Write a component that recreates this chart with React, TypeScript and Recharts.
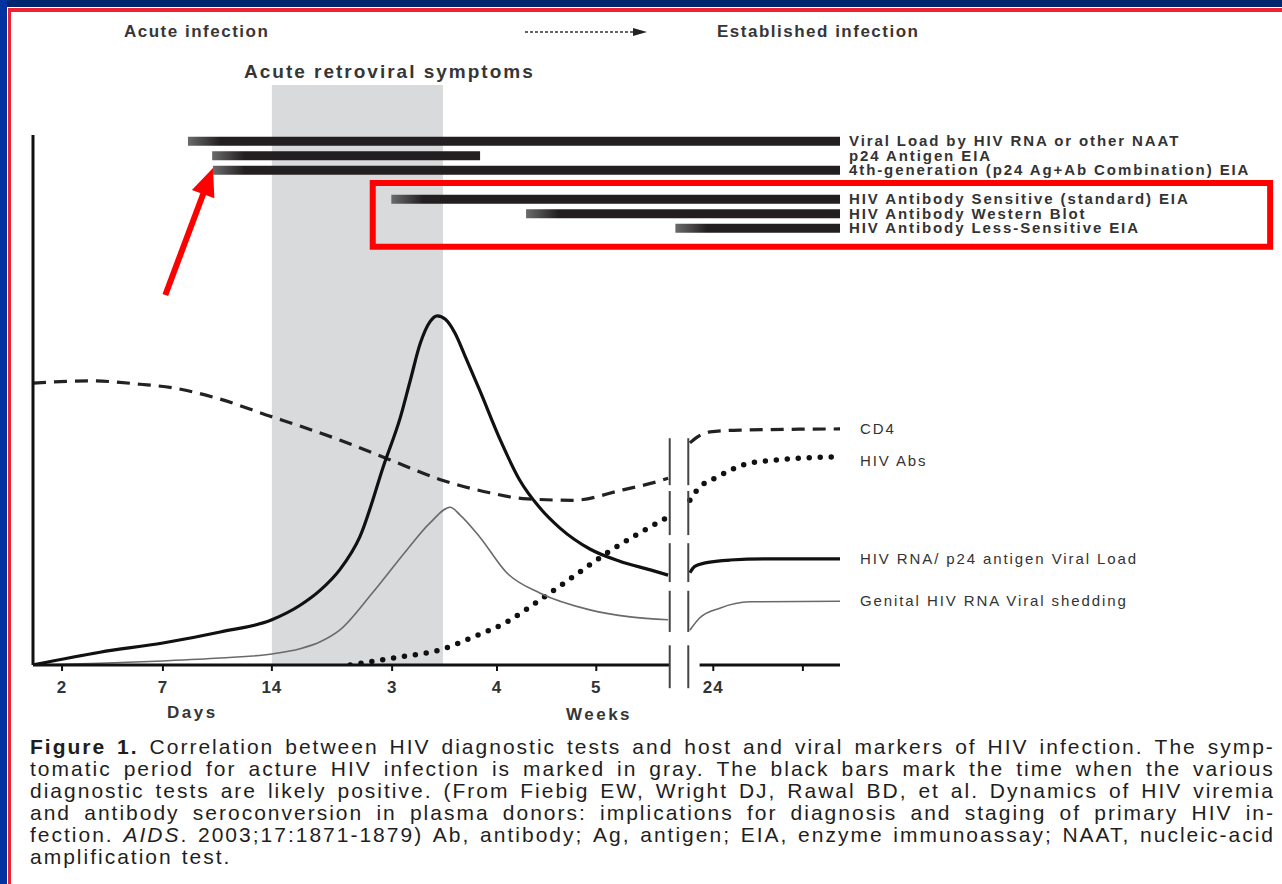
import React from 'react';
import {
  ComposedChart,
  BarChart,
  Bar,
  Line,
  XAxis,
  YAxis,
  ReferenceArea,
  ReferenceLine,
} from 'recharts';

const FONT = '"Liberation Sans", Arial, Helvetica, sans-serif';

// x: position along the schematic timeline (0–100), y: relative level (0–100)
const tickPos = [3.6, 16.1, 29.6, 44.5, 57.5, 69.8, 84.3, 95.4];
const tickLabels = ['2', '7', '14', '3', '4', '5', '24', ''];

const symptomsStart = 29.6;
const symptomsEnd = 50.8;

// diagnostic tests (bars)
const testNames = [
  'Viral Load by HIV RNA or other NAAT',
  'p24 Antigen EIA',
  '4th-generation (p24 Ag+Ab Combination) EIA',
  'HIV Antibody Sensitive (standard) EIA',
  'HIV Antibody Western Blot',
  'HIV Antibody Less-Sensitive EIA',
];
const testStart = [19.2, 22.2, 22.3, 44.4, 61.1, 79.6];
const testEnd = [100, 55.4, 100, 100, 100, 100];

// curves (null = axis break)
const cd4X = [0, 7.1, 13.3, 17.3, 22.8, 29.4, 33.1, 38.0, 44.2, 50.4, 56.6, 60.7, 66.9, 73.1, 77.3, 78.7, 80.0, 81.4, 82.3, 83.9, 87.6, 100];
const cd4Y = [48.6, 49.0, 48.4, 47.8, 46.0, 42.9, 41.2, 38.8, 35.4, 32.0, 29.7, 28.7, 28.4, 30.2, 31.6, 32.2, null, 38.3, 39.3, 40.2, 40.5, 40.7];

const absX = [39.3, 45.5, 50.4, 54.5, 58.7, 62.8, 66.9, 71.1, 75.2, 78.7, 80.0, 81.4, 82.3, 84.8, 88.0, 91.7, 100];
const absY = [0, 1.4, 2.6, 4.8, 7.4, 11.2, 15.2, 19.3, 22.8, 25.5, null, 28.4, 30.2, 32.4, 34.5, 35.3, 35.9];

const rnaX = [0, 8.3, 16.1, 23.2, 29.6, 33.1, 35.6, 38.0, 40.5, 43.6, 45.5, 46.7, 48.0, 49.2, 50.1, 51.1, 52.3, 53.5, 55.4, 57.9, 60.3, 62.8, 65.3, 69.0, 72.7, 76.5, 78.7, 80.0, 81.4, 82.0, 83.3, 86.4, 91.3, 100];
const rnaY = [0, 2.2, 3.8, 5.7, 7.8, 10.3, 12.9, 16.4, 22.1, 35.0, 42.6, 48.8, 55.5, 59.2, 60.2, 59.6, 57.2, 53.4, 47.2, 38.8, 31.9, 27.1, 23.6, 20.0, 17.9, 16.4, 15.5, null, 15.9, 17.0, 17.6, 18.1, 18.3, 18.3];

const genX = [0, 8.3, 16.1, 23.2, 29.6, 33.1, 35.6, 38.0, 42.1, 46.3, 49.2, 51.7, 52.9, 55.4, 58.7, 62.8, 69.0, 74.0, 78.7, 80.0, 81.4, 82.6, 85.1, 88.8, 100];
const genY = [0, 0.3, 0.7, 1.2, 1.9, 2.8, 4.0, 6.0, 12.5, 19.8, 24.5, 27.2, 25.9, 22.0, 15.9, 12.4, 9.5, 8.3, 7.8, null, 6.0, 8.1, 9.8, 10.9, 11.0];

const curveNames = ['CD4', 'HIV Abs', 'HIV RNA/ p24 antigen Viral Load', 'Genital HIV RNA Viral shedding'];

const captionLines = [
  'Figure 1. Correlation between HIV diagnostic tests and host and viral markers of HIV infection. The symp-',
  'tomatic period for acture HIV infection is marked in gray. The black bars mark the time when the various',
  'diagnostic tests are likely positive. (From Fiebig EW, Wright DJ, Rawal BD, et al. Dynamics of HIV viremia',
  'and antibody seroconversion in plasma donors: implications for diagnosis and staging of primary HIV in-',
  'fection. AIDS. 2003;17:1871-1879) Ab, antibody; Ag, antigen; EIA, enzyme immunoassay; NAAT, nucleic-acid',
  'amplification test.',
];

// ---------- derived ----------
const toPts = (xs: number[], ys: (number | null)[]) => xs.map((x, i) => ({ x, y: ys[i] }));
const cd4Data = toPts(cd4X, cd4Y);
const absData = toPts(absX, absY);
const rnaData = toPts(rnaX, rnaY);
const genData = toPts(genX, genY);

const endVals = [cd4Y, absY, rnaY, genY].map((a) => a[a.length - 1] as number);

const testRows: any[] = [];
testNames.forEach((name, i) => {
  if (i === 3) testRows.push({ name: ' ', offset: 0, span: 0 });
  testRows.push({ name, offset: testStart[i], span: testEnd[i] - testStart[i] });
});

// layout constants (annotation geometry in chart units)
const yAxisTop = 91.4;
const breakLeft = 78.9;
const breakRight = 81.2;
const axisResume = 82.6;
const breakSegs = [
  [39.1, 31.0],
  [30.0, 22.4],
  [21.0, 14.3],
  [12.8, 5.7],
  [3.4, -4.0],
];

const XTick = (p: any) => {
  const i = tickPos.indexOf(p.payload.value);
  return (
    <text x={p.x} y={p.y} dy="0.71em" textAnchor="middle" fill="#333" fontFamily={FONT} fontSize={17} fontWeight={700} letterSpacing={1}>
      {i >= 0 ? tickLabels[i] : ''}
    </text>
  );
};

const CurveTick = (p: any) => {
  const i = endVals.indexOf(p.payload.value);
  return (
    <text x={p.x} y={p.y} dy={i === 1 ? '0.6em' : '0.35em'} textAnchor="start" fill="#333" fontFamily={FONT} fontSize={15} letterSpacing={1.9}>
      {i >= 0 ? curveNames[i] : ''}
    </text>
  );
};

const BarTick = (p: any) => (
  <text x={p.x} y={p.y} dy="0.35em" textAnchor="start" fill="#333" fontFamily={FONT} fontSize={15} fontWeight={700} letterSpacing={1.9}>
    {p.payload.value}
  </text>
);

const FadedBar = (p: any) => {
  const { x, y, width, height, index } = p;
  if (!width || width <= 0) return null;
  const id = `fade-${index}`;
  const off = Math.min(0.9, 32 / width);
  return (
    <g>
      <defs>
        <linearGradient id={id} x1="0" y1="0" x2="1" y2="0">
          <stop offset="0" stopColor="#6b6b6b" />
          <stop offset={off} stopColor="#231f20" />
          <stop offset="1" stopColor="#231f20" />
        </linearGradient>
      </defs>
      <rect x={x} y={y} width={width} height={height} fill={`url(#${id})`} />
    </g>
  );
};

const RedArrow = (p: any) => {
  const { x1, y1, x2, y2 } = p;
  const dx = x2 - x1;
  const dy = y2 - y1;
  const len = Math.hypot(dx, dy) || 1;
  const ux = dx / len;
  const uy = dy / len;
  const hl = 28;
  const hw = 12;
  const bx = x2 - ux * hl;
  const by = y2 - uy * hl;
  const px = -uy;
  const py = ux;
  return (
    <g>
      <line x1={x1} y1={y1} x2={bx + ux * 2} y2={by + uy * 2} stroke="#ff0000" strokeWidth={6} />
      <polygon points={`${x2},${y2} ${bx + px * hw},${by + py * hw} ${bx - px * hw},${by - py * hw}`} fill="#ff0000" />
    </g>
  );
};

const Txt = ({ x, y, size, bold, ls, children }: any) => (
  <div
    style={{
      position: 'absolute',
      left: x,
      top: y - size * 0.5,
      fontFamily: FONT,
      fontSize: size,
      lineHeight: 1,
      fontWeight: bold ? 700 : 400,
      letterSpacing: ls || 0,
      color: '#363636',
      whiteSpace: 'nowrap',
    }}
  >
    {children}
  </div>
);

const CaptionLine = ({ text, idx }: { text: string; idx: number }) => {
  const words = text.split(' ');
  const last = idx === captionLines.length - 1;
  return (
    <div
      style={{
        display: 'flex',
        justifyContent: last ? 'flex-start' : 'space-between',
        gap: last ? 9 : 0,
        height: 22,
        lineHeight: '22px',
        whiteSpace: 'nowrap',
      }}
    >
      {words.map((w, i) => {
        if (idx === 0 && i < 2) return <span key={i} style={{ fontWeight: 700 }}>{w}</span>;
        if (w === 'AIDS.') return (<span key={i}><i>AIDS</i>.</span>);
        return <span key={i}>{w}</span>;
      })}
    </div>
  );
};

export default function App() {
  return (
    <div style={{ position: 'absolute', left: 0, top: 0, width: 1282, height: 884, background: '#fff', overflow: 'hidden' }}>
      {/* frame */}
      <div style={{ position: 'absolute', left: 0, top: 0, width: 1282, height: 7, background: '#00266e' }} />
      <div style={{ position: 'absolute', left: 0, top: 0, width: 7, height: 884, background: '#0033a0' }} />
      <div style={{ position: 'absolute', left: 8, top: 8, width: 1274, height: 4, background: '#ee2233' }} />
      <div style={{ position: 'absolute', left: 8, top: 8, width: 3, height: 876, background: '#ee2233' }} />

      {/* curves chart */}
      <div style={{ position: 'absolute', left: 0, top: 0 }}>
        <ComposedChart width={1282} height={884} margin={{ top: 85, right: 42, bottom: 189, left: 33 }}>
          <XAxis
            type="number"
            dataKey="x"
            domain={[0, 100]}
            ticks={tickPos}
            interval={0}
            axisLine={false}
            tickLine={{ stroke: '#111', strokeWidth: 2 }}
            tickSize={6}
            tickMargin={10}
            height={30}
            tick={XTick}
            allowDataOverflow
          />
          <YAxis
            type="number"
            orientation="right"
            domain={[0, 100]}
            ticks={endVals}
            interval={0}
            width={400}
            axisLine={false}
            tickLine={false}
            tickSize={0}
            tickMargin={20}
            tick={CurveTick}
            allowDataOverflow
          />
          <ReferenceArea x1={symptomsStart} x2={symptomsEnd} y1={0} y2={100} fill="#d9dadc" fillOpacity={1} stroke="none" ifOverflow="visible" />

          <Line data={cd4Data} dataKey="y" type="monotone" stroke="#222" strokeWidth={3.2} strokeDasharray="13 8" dot={false} activeDot={false} isAnimationActive={false} />
          <Line data={absData} dataKey="y" type="monotone" stroke="#111" strokeWidth={5.5} strokeDasharray="0 11" strokeLinecap="round" dot={false} activeDot={false} isAnimationActive={false} />
          <Line data={genData} dataKey="y" type="monotone" stroke="#6a6a6a" strokeWidth={1.6} dot={false} activeDot={false} isAnimationActive={false} />
          <Line data={rnaData} dataKey="y" type="monotone" stroke="#111" strokeWidth={3.2} dot={false} activeDot={false} isAnimationActive={false} />

          {/* axes */}
          <ReferenceLine segment={[{ x: 0, y: 0 }, { x: 0, y: yAxisTop }]} stroke="#111" strokeWidth={3} ifOverflow="visible" />
          <ReferenceLine segment={[{ x: 0, y: 0 }, { x: breakLeft, y: 0 }]} stroke="#111" strokeWidth={3} ifOverflow="visible" />
          <ReferenceLine segment={[{ x: axisResume, y: 0 }, { x: 100, y: 0 }]} stroke="#111" strokeWidth={3} ifOverflow="visible" />
          {breakSegs.map((s, i) => (
            <ReferenceLine key={`bl${i}`} segment={[{ x: breakLeft, y: s[0] }, { x: breakLeft, y: s[1] }]} stroke="#444" strokeWidth={2} ifOverflow="visible" />
          ))}
          {breakSegs.map((s, i) => (
            <ReferenceLine key={`br${i}`} segment={[{ x: breakRight, y: s[0] }, { x: breakRight, y: s[1] }]} stroke="#444" strokeWidth={2} ifOverflow="visible" />
          ))}

          {/* annotations */}
          <ReferenceArea x1={42.1} x2={153.3} y1={72.1} y2={83.1} fill="none" stroke="#ff0000" strokeWidth={6} ifOverflow="visible" />
          <ReferenceLine segment={[{ x: 16.4, y: 63.8 }, { x: 22.3, y: 85.7 }]} shape={RedArrow} ifOverflow="visible" />
        </ComposedChart>
      </div>

      {/* test bars chart */}
      <div style={{ position: 'absolute', left: 0, top: 0 }}>
        <BarChart
          layout="vertical"
          width={1282}
          height={884}
          data={testRows}
          margin={{ top: 133.75, right: 42, bottom: 648.75, left: 33 }}
          barCategoryGap={0}
        >
          <XAxis type="number" domain={[0, 100]} hide />
          <YAxis
            type="category"
            dataKey="name"
            orientation="right"
            width={400}
            axisLine={false}
            tickLine={false}
            tickSize={0}
            tickMargin={9}
            interval={0}
            tick={BarTick}
          />
          <Bar dataKey="offset" stackId="t" fill="transparent" barSize={9} isAnimationActive={false} />
          <Bar dataKey="span" stackId="t" barSize={9} shape={FadedBar} isAnimationActive={false} />
        </BarChart>
      </div>

      {/* header texts */}
      <Txt x={124} y={31} size={17} bold ls={1.5}>Acute infection</Txt>
      <Txt x={717} y={31} size={17} bold ls={1.5}>Established infection</Txt>
      <Txt x={244} y={71} size={19} bold ls={2}>Acute retroviral symptoms</Txt>
      <svg style={{ position: 'absolute', left: 520, top: 24 }} width={135} height={16}>
        <line x1={5} y1={8} x2={115} y2={8} stroke="#333" strokeWidth={1.6} strokeDasharray="3 2" />
        <polygon points="113,4 127,8 113,12" fill="#222" />
      </svg>

      {/* axis captions */}
      <Txt x={167} y={712} size={17} bold ls={2.5}>Days</Txt>
      <Txt x={566} y={714} size={17} bold ls={2.5}>Weeks</Txt>

      {/* figure caption */}
      <div style={{ position: 'absolute', left: 30, top: 736, width: 1245, fontFamily: FONT, fontSize: 21, letterSpacing: 2, color: '#1e1e1e' }}>
        {captionLines.map((t, i) => (
          <CaptionLine key={i} text={t} idx={i} />
        ))}
      </div>
    </div>
  );
}
